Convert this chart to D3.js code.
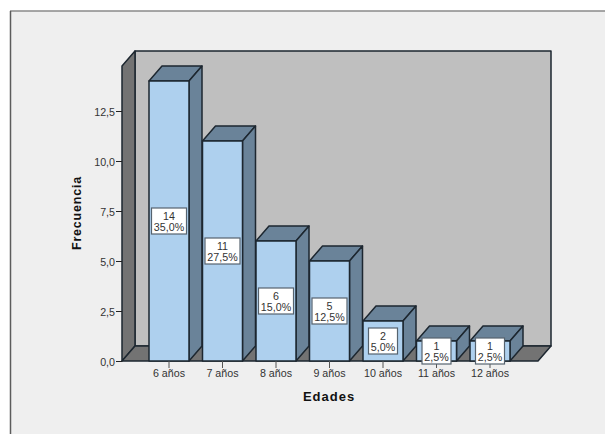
<!DOCTYPE html>
<html>
<head>
<meta charset="utf-8">
<script src="https://cdnjs.cloudflare.com/ajax/libs/d3/7.8.5/d3.min.js"></script>
<style>
  html, body { margin: 0; padding: 0; background: #fff; }
  svg { display: block; }
  text { font-family: "Liberation Sans", Arial, sans-serif; }
</style>
</head>
<body>
<div id="chart"></div>
<script>
// Age distribution: counts and percentages per age group
const categories = ["6 años", "7 años", "8 años", "9 años", "10 años", "11 años", "12 años"];
const counts = [14, 11, 6, 5, 2, 1, 1];
const percents = ["35,0%", "27,5%", "15,0%", "12,5%", "5,0%", "2,5%", "2,5%"];
const yTicks = [0, 2.5, 5, 7.5, 10, 12.5];
const xTitle = "Edades";
const yTitle = "Frecuencia";

const width = 605, height = 434;
const depthX = 13, depthY = -15;
const outline = "#1d2730";

const svg = d3.select("#chart").append("svg").attr("width", width).attr("height", height);

// Panel behind the chart
svg.append("rect").attr("x", 0).attr("y", 0).attr("width", width).attr("height", height).attr("fill", "#fff");
svg.append("rect").attr("x", 10).attr("y", 11).attr("width", width).attr("height", height).attr("fill", "#efefef");
svg.append("line").attr("x1", 10).attr("x2", width).attr("y1", 11).attr("y2", 11).attr("stroke", "#8a8a8a").attr("stroke-width", 1.5);
svg.append("line").attr("x1", 10.5).attr("x2", 10.5).attr("y1", 11).attr("y2", height).attr("stroke", "#5c5c5c").attr("stroke-width", 1.5);

// Scales
const x = d3.scaleBand()
  .domain(categories)
  .range([142.25, 516.75])
  .paddingInner(13.5 / 53.5)
  .paddingOuter(6.75 / 53.5);
const y = d3.scaleLinear().domain([0, 14.75]).range([361, 66]);

const plotLeft = 122, plotRight = 538;
const floorY = y(0), topY = y(14.75);

// Three sides of the plot box
const poly = pts => pts.map(p => p.join(",")).join(" ");
const box = svg.append("g")
  .attr("stroke", outline).attr("stroke-width", 1.5).attr("stroke-linejoin", "round");
box.append("polygon")
  .attr("points", poly([[plotLeft + depthX, topY + depthY], [plotRight + depthX, topY + depthY], [plotRight + depthX, floorY + depthY], [plotLeft + depthX, floorY + depthY]]))
  .attr("fill", "#bfbfbf");
box.append("polygon")
  .attr("points", poly([[plotLeft, topY], [plotLeft + depthX, topY + depthY], [plotLeft + depthX, floorY + depthY], [plotLeft, floorY]]))
  .attr("fill", "#737373");
box.append("polygon")
  .attr("points", poly([[plotLeft, floorY], [plotLeft + depthX, floorY + depthY], [plotRight + depthX, floorY + depthY], [plotRight, floorY]]))
  .attr("fill", "#737373");

// Bars as extruded boxes
const bars = svg.append("g").selectAll("g").data(categories).join("g")
  .attr("stroke", outline).attr("stroke-width", 1.5).attr("stroke-linejoin", "round");
bars.append("polygon")
  .attr("fill", "#6a8399")
  .attr("points", (c, i) => {
    const l = x(c), r = l + x.bandwidth(), t = y(counts[i]);
    return poly([[l, t], [l + depthX, t + depthY], [r + depthX, t + depthY], [r, t]]);
  });
bars.append("polygon")
  .attr("fill", "#6a8399")
  .attr("points", (c, i) => {
    const r = x(c) + x.bandwidth(), t = y(counts[i]);
    return poly([[r, t], [r + depthX, t + depthY], [r + depthX, floorY + depthY], [r, floorY]]);
  });
bars.append("rect")
  .attr("fill", "#aed0ee")
  .attr("x", c => x(c))
  .attr("y", (c, i) => y(counts[i]))
  .attr("width", x.bandwidth())
  .attr("height", (c, i) => floorY - y(counts[i]));

// Axes
const axisColor = "#333";
const yAxis = svg.append("g")
  .attr("transform", `translate(${plotLeft},0)`)
  .call(d3.axisLeft(y).tickValues(yTicks).tickSize(6).tickPadding(1)
    .tickFormat(d => d3.format(".1f")(d).replace(".", ",")));
yAxis.select(".domain").remove();
yAxis.selectAll("line").attr("stroke", "#222").attr("stroke-width", 1);
yAxis.selectAll("text").attr("font-size", 10.7).attr("fill", axisColor).attr("dy", "0.42em");

const xAxis = svg.append("g")
  .attr("transform", `translate(0,${floorY})`)
  .call(d3.axisBottom(x).tickSize(7).tickPadding(1.5));
xAxis.select(".domain").remove();
xAxis.selectAll("line").attr("stroke", "#555").attr("stroke-width", 1);
xAxis.selectAll("text").attr("font-size", 10.7).attr("fill", axisColor);

// Axis titles
svg.append("text")
  .attr("x", 329).attr("y", 401).attr("text-anchor", "middle")
  .attr("font-size", 13).attr("font-weight", "bold").attr("letter-spacing", 1).attr("fill", "#111")
  .text(xTitle);
svg.append("text")
  .attr("transform", "translate(81,213) rotate(-90)").attr("text-anchor", "middle")
  .attr("font-size", 12.5).attr("font-weight", "bold").attr("letter-spacing", 0.8).attr("fill", "#111")
  .text(yTitle);

// Value labels centred on the middle of each bar
const labels = svg.append("g").selectAll("g").data(categories).join("g")
  .attr("transform", (c, i) => `translate(${x(c) + x.bandwidth() / 2},${y(counts[i] / 2)})`);
labels.append("rect")
  .attr("x", (c, i) => -(percents[i].length > 4 ? 17.5 : 14.5))
  .attr("width", (c, i) => percents[i].length > 4 ? 35 : 29)
  .attr("y", -13).attr("height", 26)
  .attr("fill", "#fff").attr("stroke", "#56636f").attr("stroke-width", 1.2);
labels.append("text")
  .attr("text-anchor", "middle").attr("y", -1).attr("font-size", 10.7).attr("fill", axisColor)
  .text((c, i) => counts[i]);
labels.append("text")
  .attr("text-anchor", "middle").attr("y", 10).attr("font-size", 10.7).attr("fill", axisColor)
  .text((c, i) => percents[i]);
</script>
</body>
</html>
